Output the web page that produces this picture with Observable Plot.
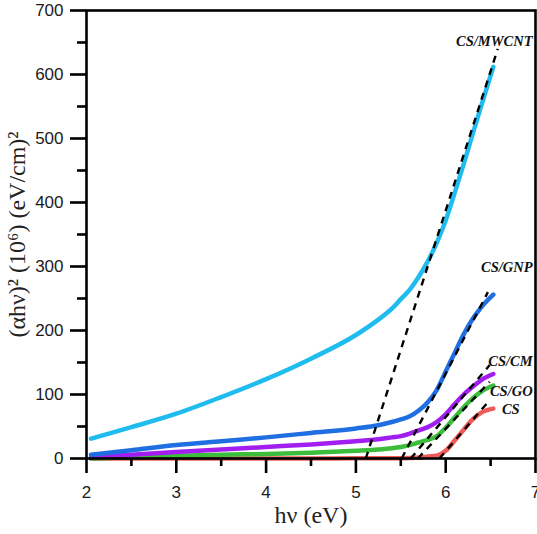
<!DOCTYPE html>
<html>
<head>
<meta charset="utf-8">
<script src="https://cdn.jsdelivr.net/npm/d3@7"></script>
<script src="https://cdn.jsdelivr.net/npm/@observablehq/plot@0.6"></script>
<style>
  html, body { margin: 0; padding: 0; background: #fff; }
  #chart svg { display: block; }
</style>
</head>
<body>
<div id="chart"></div>
<script>
// ---- data ----
const hv = [2.05, 2.5, 3.0, 3.5, 4.0, 4.5, 5.0, 5.25, 5.4, 5.5, 5.6, 5.7, 5.8, 5.9, 6.0, 6.1, 6.2, 6.3, 6.4, 6.53];
const csMWCNT = [31, 49, 70, 96, 124, 156, 193, 217, 234, 249, 264, 284, 308, 337, 372, 415, 460, 507, 553, 612];
const csGNP   = [6, 13, 21, 27, 33, 40, 47, 52, 57, 61, 66, 75, 88, 107, 136, 165, 194, 218, 237, 256];
const csCM    = [2, 6, 10, 14, 18, 22, 27, 30, 33, 35, 39, 44, 49, 57, 69, 85, 100, 112, 123, 132];
const csGO    = [0, 2, 4, 6, 7, 9, 12, 14, 16, 18, 21, 25, 29, 35, 48, 64, 80, 94, 105, 114];
const csPure  = [0, 0, 0, 0, 0, 0, 0.2, 0.3, 0.4, 0.5, 0.8, 1.5, 3, 4.5, 12, 28, 45, 61, 72, 78];

const seriesNames = ["CS", "CS/GO", "CS/CM", "CS/GNP", "CS/MWCNT"];
const seriesValues = [csPure, csGO, csCM, csGNP, csMWCNT];

// tangent (Tauc) lines: start on the hν axis, end point
const tangentNames = ["CS/MWCNT", "CS/GNP", "CS/CM", "CS/GO", "CS"];
const tangentX0 = [5.11, 5.51, 5.61, 5.69, 5.93];
const tangentX1 = [6.58, 6.47, 6.49, 6.49, 6.47];
const tangentY1 = [640, 260, 146, 120, 88];

// series labels (data coordinates)
const labelText = ["CS/MWCNT", "CS/GNP", "CS/CM", "CS/GO", "CS"];
const labelX = [6.968, 6.968, 6.968, 6.968, 6.725];
const labelY = [652, 298, 152, 105.5, 76.5];

const yTicks = [0, 100, 200, 300, 400, 500, 600, 700];
const yMinor = [50, 150, 250, 350, 450, 550, 650];
const xTicks = [2, 3, 4, 5, 6, 7];
const xMinor = [2.5, 3.5, 4.5, 5.5, 6.5];

// ---- styles ----
const colors = {
  "CS": "#ef5a5a",
  "CS/GO": "#3cbd3c",
  "CS/CM": "#a21ef0",
  "CS/GNP": "#1f6fe2",
  "CS/MWCNT": "#1fbcef"
};
const sans = "'Liberation Sans', Arial, Helvetica, sans-serif";
const serif = "'Liberation Serif', 'Times New Roman', Times, serif";

// ---- tables built from arrays ----
const rows = [];
seriesNames.forEach((name, s) => {
  hv.forEach((x, i) => rows.push({series: name, x, y: seriesValues[s][i]}));
});
const tangents = tangentNames.map((n, i) => ({name: n, x0: tangentX0[i], y0: 0, x1: tangentX1[i], y1: tangentY1[i]}));
const labels = labelText.map((t, i) => ({t, x: labelX[i], y: labelY[i]}));

const lineMarks = seriesNames.map(name =>
  Plot.line(rows.filter(d => d.series === name), {
    x: "x", y: "y", stroke: colors[name], strokeWidth: 4.5, curve: "monotone-x",
    strokeLinecap: "round", strokeLinejoin: "round"
  })
);

const labelStyle = {x: "x", y: "y", text: "t", fontFamily: serif, fontSize: 14.5, fontWeight: "bold", fontStyle: "italic", fill: "#111"};

const plot = Plot.plot({
  width: 537,
  height: 534,
  marginLeft: 86,
  marginRight: 2,
  marginTop: 10,
  marginBottom: 76,
  x: {domain: [2, 7], label: null},
  y: {domain: [0, 700], label: null},
  style: {background: "white", fontFamily: sans, overflow: "visible"},
  marks: [
    ...lineMarks,
    Plot.link(tangents, {
      x1: "x0", y1: "y0", x2: "x1", y2: "y1",
      stroke: "black", strokeWidth: 2.4, strokeDasharray: "7,6"
    }),
    Plot.frame({stroke: "black", strokeWidth: 2.6}),
    Plot.axisY(yTicks, {tickSize: 16, tickPadding: 7, fontSize: 17, fontFamily: sans, strokeWidth: 2.6, fill: "#1a1a1a", label: null}),
    Plot.axisY(yMinor, {tickSize: 9, text: null, strokeWidth: 2.6, label: null}),
    Plot.axisX(xTicks, {tickSize: 15, tickPadding: 12, fontSize: 17, fontFamily: sans, strokeWidth: 2.6, fill: "#1a1a1a", label: null}),
    Plot.axisX(xMinor, {tickSize: 8, text: null, strokeWidth: 2.6, label: null}),
    Plot.text(labels.filter(d => d.t !== "CS"), {...labelStyle, textAnchor: "end"}),
    Plot.text(labels.filter(d => d.t === "CS"), {...labelStyle, textAnchor: "middle"}),
    Plot.text(["hν (eV)"], {
      frameAnchor: "bottom", textAnchor: "middle", lineAnchor: "middle", dy: 57,
      fontFamily: serif, fontSize: 24, fill: "#222"
    }),
    Plot.text(["(αhν)² (10⁶) (eV/cm)²"], {
      frameAnchor: "left", textAnchor: "middle", lineAnchor: "middle", rotate: -90, dx: -69,
      fontFamily: serif, fontSize: 24, fill: "#222"
    })
  ]
});

document.getElementById("chart").appendChild(plot);
</script>
</body>
</html>
